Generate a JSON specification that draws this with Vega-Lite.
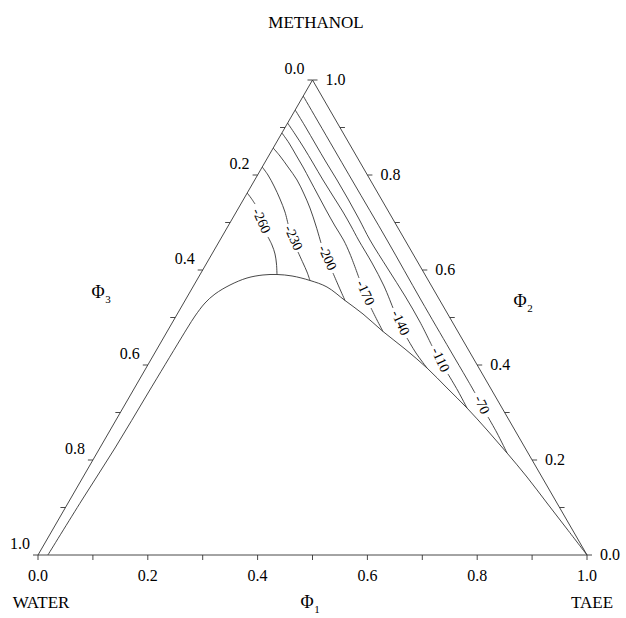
{
  "$schema": "https://vega.github.io/schema/vega-lite/v6.json",
  "width": 549,
  "height": 475,
  "autosize": {"type": "none"},
  "padding": {"left": 38, "top": 80, "right": 39, "bottom": 63},
  "background": "white",
  "config": {"view": {"stroke": null}},
  "datasets": {
    "tri": [
      {"o": 0, "x": 0, "y": 0},
      {"o": 1, "x": 1, "y": 0},
      {"o": 2, "x": 0.5, "y": 0.866},
      {"o": 3, "x": 0, "y": 0}
    ],
    "ticks": [
      {"side": "b", "x": 0, "y": 0, "label": "0.0"},
      {"side": "b", "x": 0.1, "y": 0, "label": ""},
      {"side": "b", "x": 0.2, "y": 0, "label": "0.2"},
      {"side": "b", "x": 0.3, "y": 0, "label": ""},
      {"side": "b", "x": 0.4, "y": 0, "label": "0.4"},
      {"side": "b", "x": 0.5, "y": 0, "label": ""},
      {"side": "b", "x": 0.6, "y": 0, "label": "0.6"},
      {"side": "b", "x": 0.7, "y": 0, "label": ""},
      {"side": "b", "x": 0.8, "y": 0, "label": "0.8"},
      {"side": "b", "x": 0.9, "y": 0, "label": ""},
      {"side": "b", "x": 1, "y": 0, "label": "1.0"},
      {"side": "l", "x": 0.5, "y": 0.866, "label": "0.0"},
      {"side": "l", "x": 0.45, "y": 0.7794, "label": ""},
      {"side": "l", "x": 0.4, "y": 0.6928, "label": "0.2"},
      {"side": "l", "x": 0.35, "y": 0.6062, "label": ""},
      {"side": "l", "x": 0.3, "y": 0.5196, "label": "0.4"},
      {"side": "l", "x": 0.25, "y": 0.433, "label": ""},
      {"side": "l", "x": 0.2, "y": 0.3464, "label": "0.6"},
      {"side": "l", "x": 0.15, "y": 0.2598, "label": ""},
      {"side": "l", "x": 0.1, "y": 0.1732, "label": "0.8"},
      {"side": "l", "x": 0.05, "y": 0.0866, "label": ""},
      {"side": "l", "x": 0, "y": 0, "label": "1.0"},
      {"side": "r", "x": 1, "y": 0, "label": "0.0"},
      {"side": "r", "x": 0.95, "y": 0.0866, "label": ""},
      {"side": "r", "x": 0.9, "y": 0.1732, "label": "0.2"},
      {"side": "r", "x": 0.85, "y": 0.2598, "label": ""},
      {"side": "r", "x": 0.8, "y": 0.3464, "label": "0.4"},
      {"side": "r", "x": 0.75, "y": 0.433, "label": ""},
      {"side": "r", "x": 0.7, "y": 0.5196, "label": "0.6"},
      {"side": "r", "x": 0.65, "y": 0.6062, "label": ""},
      {"side": "r", "x": 0.6, "y": 0.6928, "label": "0.8"},
      {"side": "r", "x": 0.55, "y": 0.7794, "label": ""},
      {"side": "r", "x": 0.5, "y": 0.866, "label": "1.0"}
    ],
    "binodal": [
      {"o": 0, "x": 0.018, "y": 0},
      {"o": 1, "x": 0.0801, "y": 0.1003},
      {"o": 2, "x": 0.1403, "y": 0.1951},
      {"o": 3, "x": 0.2004, "y": 0.2953},
      {"o": 4, "x": 0.2587, "y": 0.392},
      {"o": 5, "x": 0.2732, "y": 0.4157},
      {"o": 6, "x": 0.286, "y": 0.4357},
      {"o": 7, "x": 0.3042, "y": 0.4594},
      {"o": 8, "x": 0.3224, "y": 0.4758},
      {"o": 9, "x": 0.3497, "y": 0.4922},
      {"o": 10, "x": 0.3807, "y": 0.505},
      {"o": 11, "x": 0.4098, "y": 0.5105},
      {"o": 12, "x": 0.4353, "y": 0.5114},
      {"o": 13, "x": 0.4627, "y": 0.5087},
      {"o": 14, "x": 0.4954, "y": 0.5005},
      {"o": 15, "x": 0.5264, "y": 0.4886},
      {"o": 16, "x": 0.5592, "y": 0.464},
      {"o": 17, "x": 0.592, "y": 0.4394},
      {"o": 18, "x": 0.6284, "y": 0.4075},
      {"o": 19, "x": 0.6685, "y": 0.3756},
      {"o": 20, "x": 0.7086, "y": 0.3409},
      {"o": 21, "x": 0.745, "y": 0.3045},
      {"o": 22, "x": 0.7814, "y": 0.268},
      {"o": 23, "x": 0.8179, "y": 0.2279},
      {"o": 24, "x": 0.8543, "y": 0.186},
      {"o": 25, "x": 0.8907, "y": 0.1422},
      {"o": 26, "x": 0.9271, "y": 0.0948},
      {"o": 27, "x": 0.9636, "y": 0.0474},
      {"o": 28, "x": 1.0, "y": 0}
    ],
    "contours": [
      {"id": "-260a", "o": 0, "x": 0.381, "y": 0.66},
      {"id": "-260a", "o": 1, "x": 0.388, "y": 0.6509},
      {"id": "-260a", "o": 2, "x": 0.3953, "y": 0.6399},
      {"id": "-260b", "o": 0, "x": 0.4189, "y": 0.5798},
      {"id": "-260b", "o": 1, "x": 0.4262, "y": 0.5652},
      {"id": "-260b", "o": 2, "x": 0.4317, "y": 0.5488},
      {"id": "-260b", "o": 3, "x": 0.4344, "y": 0.5305},
      {"id": "-260b", "o": 4, "x": 0.4353, "y": 0.5114},
      {"id": "-230a", "o": 0, "x": 0.4084, "y": 0.7074},
      {"id": "-230a", "o": 1, "x": 0.4189, "y": 0.6928},
      {"id": "-230a", "o": 2, "x": 0.4299, "y": 0.6727},
      {"id": "-230a", "o": 3, "x": 0.4408, "y": 0.649},
      {"id": "-230a", "o": 4, "x": 0.4499, "y": 0.6253},
      {"id": "-230a", "o": 5, "x": 0.4554, "y": 0.6035},
      {"id": "-230b", "o": 0, "x": 0.4736, "y": 0.5524},
      {"id": "-230b", "o": 1, "x": 0.4827, "y": 0.5324},
      {"id": "-230b", "o": 2, "x": 0.49, "y": 0.516},
      {"id": "-230b", "o": 3, "x": 0.4954, "y": 0.5005},
      {"id": "-200a", "o": 0, "x": 0.4284, "y": 0.742},
      {"id": "-200a", "o": 1, "x": 0.4408, "y": 0.7274},
      {"id": "-200a", "o": 2, "x": 0.4554, "y": 0.7074},
      {"id": "-200a", "o": 3, "x": 0.4718, "y": 0.6837},
      {"id": "-200a", "o": 4, "x": 0.4845, "y": 0.6582},
      {"id": "-200a", "o": 5, "x": 0.4954, "y": 0.6326},
      {"id": "-200a", "o": 6, "x": 0.5064, "y": 0.5998},
      {"id": "-200a", "o": 7, "x": 0.5155, "y": 0.5688},
      {"id": "-200b", "o": 0, "x": 0.5373, "y": 0.5141},
      {"id": "-200b", "o": 1, "x": 0.5483, "y": 0.4886},
      {"id": "-200b", "o": 2, "x": 0.5592, "y": 0.464},
      {"id": "-170a", "o": 0, "x": 0.4443, "y": 0.7694},
      {"id": "-170a", "o": 1, "x": 0.4572, "y": 0.7511},
      {"id": "-170a", "o": 2, "x": 0.4699, "y": 0.7293},
      {"id": "-170a", "o": 3, "x": 0.4827, "y": 0.7074},
      {"id": "-170a", "o": 4, "x": 0.4954, "y": 0.6837},
      {"id": "-170a", "o": 5, "x": 0.51, "y": 0.6563},
      {"id": "-170a", "o": 6, "x": 0.5246, "y": 0.629},
      {"id": "-170a", "o": 7, "x": 0.541, "y": 0.5998},
      {"id": "-170a", "o": 8, "x": 0.5565, "y": 0.5743},
      {"id": "-170a", "o": 9, "x": 0.5683, "y": 0.5488},
      {"id": "-170a", "o": 10, "x": 0.5847, "y": 0.505},
      {"id": "-170b", "o": 0, "x": 0.6066, "y": 0.4503},
      {"id": "-170b", "o": 1, "x": 0.6175, "y": 0.4284},
      {"id": "-170b", "o": 2, "x": 0.6284, "y": 0.4075},
      {"id": "-140a", "o": 0, "x": 0.4546, "y": 0.7876},
      {"id": "-140a", "o": 1, "x": 0.4681, "y": 0.7675},
      {"id": "-140a", "o": 2, "x": 0.4845, "y": 0.742},
      {"id": "-140a", "o": 3, "x": 0.5009, "y": 0.7147},
      {"id": "-140a", "o": 4, "x": 0.5191, "y": 0.6837},
      {"id": "-140a", "o": 5, "x": 0.5373, "y": 0.6545},
      {"id": "-140a", "o": 6, "x": 0.5556, "y": 0.6253},
      {"id": "-140a", "o": 7, "x": 0.5701, "y": 0.5998},
      {"id": "-140a", "o": 8, "x": 0.5838, "y": 0.5743},
      {"id": "-140a", "o": 9, "x": 0.6084, "y": 0.5324},
      {"id": "-140a", "o": 10, "x": 0.6302, "y": 0.4904},
      {"id": "-140a", "o": 11, "x": 0.6466, "y": 0.4503},
      {"id": "-140b", "o": 0, "x": 0.6721, "y": 0.3956},
      {"id": "-140b", "o": 1, "x": 0.6885, "y": 0.3683},
      {"id": "-140b", "o": 2, "x": 0.7086, "y": 0.3409},
      {"id": "-110a", "o": 0, "x": 0.4685, "y": 0.8113},
      {"id": "-110a", "o": 1, "x": 0.4863, "y": 0.7821},
      {"id": "-110a", "o": 2, "x": 0.5064, "y": 0.7475},
      {"id": "-110a", "o": 3, "x": 0.5246, "y": 0.7165},
      {"id": "-110a", "o": 4, "x": 0.5446, "y": 0.6837},
      {"id": "-110a", "o": 5, "x": 0.5647, "y": 0.649},
      {"id": "-110a", "o": 6, "x": 0.5847, "y": 0.6126},
      {"id": "-110a", "o": 7, "x": 0.6047, "y": 0.5743},
      {"id": "-110a", "o": 8, "x": 0.6375, "y": 0.5214},
      {"id": "-110a", "o": 9, "x": 0.6685, "y": 0.4722},
      {"id": "-110a", "o": 10, "x": 0.6958, "y": 0.4248},
      {"id": "-110a", "o": 11, "x": 0.7177, "y": 0.381},
      {"id": "-110b", "o": 0, "x": 0.7468, "y": 0.33},
      {"id": "-110b", "o": 1, "x": 0.765, "y": 0.299},
      {"id": "-110b", "o": 2, "x": 0.7814, "y": 0.268},
      {"id": "-70a", "o": 0, "x": 0.4831, "y": 0.8368},
      {"id": "-70a", "o": 1, "x": 0.5719, "y": 0.6837},
      {"id": "-70a", "o": 2, "x": 0.6357, "y": 0.5743},
      {"id": "-70a", "o": 3, "x": 0.6976, "y": 0.4649},
      {"id": "-70a", "o": 4, "x": 0.7505, "y": 0.3737},
      {"id": "-70a", "o": 5, "x": 0.7814, "y": 0.3209},
      {"id": "-70a", "o": 6, "x": 0.796, "y": 0.2954},
      {"id": "-70b", "o": 0, "x": 0.8197, "y": 0.2516},
      {"id": "-70b", "o": 1, "x": 0.8361, "y": 0.2224},
      {"id": "-70b", "o": 2, "x": 0.8543, "y": 0.186}
    ],
    "clabels": [
      {"c": "-260", "x": 0.4062, "y": 0.6089},
      {"c": "-230", "x": 0.4645, "y": 0.5779},
      {"c": "-200", "x": 0.5264, "y": 0.5415},
      {"c": "-170", "x": 0.5956, "y": 0.4777},
      {"c": "-140", "x": 0.6594, "y": 0.423},
      {"c": "-110", "x": 0.7322, "y": 0.3555},
      {"c": "-70", "x": 0.8078, "y": 0.2735}
    ],
    "titles": [
      {"t": "METHANOL", "x": 0.5064, "y": 0.9699},
      {"t": "WATER", "x": 0.0055, "y": -0.088},
      {"t": "TAEE", "x": 1.0091, "y": -0.088}
    ],
    "phis": [
      {"t": "Φ", "s": "1", "x": 0.49, "y": -0.088},
      {"t": "Φ", "s": "3", "x": 0.1093, "y": 0.4777},
      {"t": "Φ", "s": "2", "x": 0.878, "y": 0.4613}
    ]
  },
  "layer": [
    {
      "data": {"name": "tri"},
      "mark": {"type": "line", "stroke": "#333333", "strokeWidth": 0.9},
      "encoding": {
        "x": {"field": "x", "type": "quantitative", "scale": {"domain": [0, 1], "nice": false, "zero": false}, "axis": null},
        "y": {"field": "y", "type": "quantitative", "scale": {"domain": [0, 0.866], "nice": false, "zero": false}, "axis": null},
        "order": {"field": "o"}
      }
    },
    {
      "data": {"name": "ticks"},
      "transform": [{"filter": "datum.side === 'b'"}],
      "mark": {"type": "rule", "stroke": "#333333", "strokeWidth": 0.9, "y2Offset": 5},
      "encoding": {
        "x": {"field": "x", "type": "quantitative", "scale": {"domain": [0, 1], "nice": false, "zero": false}, "axis": null},
        "y": {"field": "y", "type": "quantitative", "scale": {"domain": [0, 0.866], "nice": false, "zero": false}, "axis": null},
        "x2": {"field": "x"},
        "y2": {"field": "y"}
      }
    },
    {
      "data": {"name": "ticks"},
      "transform": [{"filter": "datum.side === 'l'"}],
      "mark": {"type": "rule", "stroke": "#333333", "strokeWidth": 0.9, "x2Offset": -5},
      "encoding": {
        "x": {"field": "x", "type": "quantitative", "scale": {"domain": [0, 1], "nice": false, "zero": false}, "axis": null},
        "y": {"field": "y", "type": "quantitative", "scale": {"domain": [0, 0.866], "nice": false, "zero": false}, "axis": null},
        "x2": {"field": "x"},
        "y2": {"field": "y"}
      }
    },
    {
      "data": {"name": "ticks"},
      "transform": [{"filter": "datum.side === 'r'"}],
      "mark": {"type": "rule", "stroke": "#333333", "strokeWidth": 0.9, "x2Offset": 5},
      "encoding": {
        "x": {"field": "x", "type": "quantitative", "scale": {"domain": [0, 1], "nice": false, "zero": false}, "axis": null},
        "y": {"field": "y", "type": "quantitative", "scale": {"domain": [0, 0.866], "nice": false, "zero": false}, "axis": null},
        "x2": {"field": "x"},
        "y2": {"field": "y"}
      }
    },
    {
      "data": {"name": "ticks"},
      "transform": [{"filter": "datum.side === 'b' && datum.label !== ''"}],
      "mark": {"type": "text", "font": "Liberation Serif", "fontSize": 16, "color": "black", "dy": 21},
      "encoding": {
        "x": {"field": "x", "type": "quantitative", "scale": {"domain": [0, 1], "nice": false, "zero": false}, "axis": null},
        "y": {"field": "y", "type": "quantitative", "scale": {"domain": [0, 0.866], "nice": false, "zero": false}, "axis": null},
        "text": {"field": "label"}
      }
    },
    {
      "data": {"name": "ticks"},
      "transform": [{"filter": "datum.side === 'l' && datum.label !== ''"}],
      "mark": {"type": "text", "font": "Liberation Serif", "fontSize": 16, "color": "black", "dx": -18, "dy": -11},
      "encoding": {
        "x": {"field": "x", "type": "quantitative", "scale": {"domain": [0, 1], "nice": false, "zero": false}, "axis": null},
        "y": {"field": "y", "type": "quantitative", "scale": {"domain": [0, 0.866], "nice": false, "zero": false}, "axis": null},
        "text": {"field": "label"}
      }
    },
    {
      "data": {"name": "ticks"},
      "transform": [{"filter": "datum.side === 'r' && datum.label !== ''"}],
      "mark": {"type": "text", "font": "Liberation Serif", "fontSize": 16, "color": "black", "dx": 23, "dy": 0},
      "encoding": {
        "x": {"field": "x", "type": "quantitative", "scale": {"domain": [0, 1], "nice": false, "zero": false}, "axis": null},
        "y": {"field": "y", "type": "quantitative", "scale": {"domain": [0, 0.866], "nice": false, "zero": false}, "axis": null},
        "text": {"field": "label"}
      }
    },
    {
      "data": {"name": "binodal"},
      "mark": {"type": "line", "stroke": "#333333", "strokeWidth": 0.9, "interpolate": "catmull-rom"},
      "encoding": {
        "x": {"field": "x", "type": "quantitative", "scale": {"domain": [0, 1], "nice": false, "zero": false}, "axis": null},
        "y": {"field": "y", "type": "quantitative", "scale": {"domain": [0, 0.866], "nice": false, "zero": false}, "axis": null},
        "order": {"field": "o"}
      }
    },
    {
      "data": {"name": "contours"},
      "mark": {"type": "line", "stroke": "#333333", "strokeWidth": 0.9, "interpolate": "catmull-rom"},
      "encoding": {
        "x": {"field": "x", "type": "quantitative", "scale": {"domain": [0, 1], "nice": false, "zero": false}, "axis": null},
        "y": {"field": "y", "type": "quantitative", "scale": {"domain": [0, 0.866], "nice": false, "zero": false}, "axis": null},
        "detail": {"field": "id"},
        "order": {"field": "o"}
      }
    },
    {
      "data": {"name": "clabels"},
      "mark": {"type": "text", "font": "Liberation Serif", "fontSize": 14, "color": "black", "angle": 65},
      "encoding": {
        "x": {"field": "x", "type": "quantitative", "scale": {"domain": [0, 1], "nice": false, "zero": false}, "axis": null},
        "y": {"field": "y", "type": "quantitative", "scale": {"domain": [0, 0.866], "nice": false, "zero": false}, "axis": null},
        "text": {"field": "c"}
      }
    },
    {
      "data": {"name": "titles"},
      "mark": {"type": "text", "font": "Liberation Serif", "fontSize": 17, "color": "black"},
      "encoding": {
        "x": {"field": "x", "type": "quantitative", "scale": {"domain": [0, 1], "nice": false, "zero": false}, "axis": null},
        "y": {"field": "y", "type": "quantitative", "scale": {"domain": [0, 0.866], "nice": false, "zero": false}, "axis": null},
        "text": {"field": "t"}
      }
    },
    {
      "data": {"name": "phis"},
      "mark": {"type": "text", "font": "Liberation Serif", "fontSize": 18, "color": "black"},
      "encoding": {
        "x": {"field": "x", "type": "quantitative", "scale": {"domain": [0, 1], "nice": false, "zero": false}, "axis": null},
        "y": {"field": "y", "type": "quantitative", "scale": {"domain": [0, 0.866], "nice": false, "zero": false}, "axis": null},
        "text": {"field": "t"}
      }
    },
    {
      "data": {"name": "phis"},
      "mark": {"type": "text", "font": "Liberation Serif", "fontSize": 11, "color": "black", "dx": 10, "dy": 7},
      "encoding": {
        "x": {"field": "x", "type": "quantitative", "scale": {"domain": [0, 1], "nice": false, "zero": false}, "axis": null},
        "y": {"field": "y", "type": "quantitative", "scale": {"domain": [0, 0.866], "nice": false, "zero": false}, "axis": null},
        "text": {"field": "s"}
      }
    }
  ]
}
